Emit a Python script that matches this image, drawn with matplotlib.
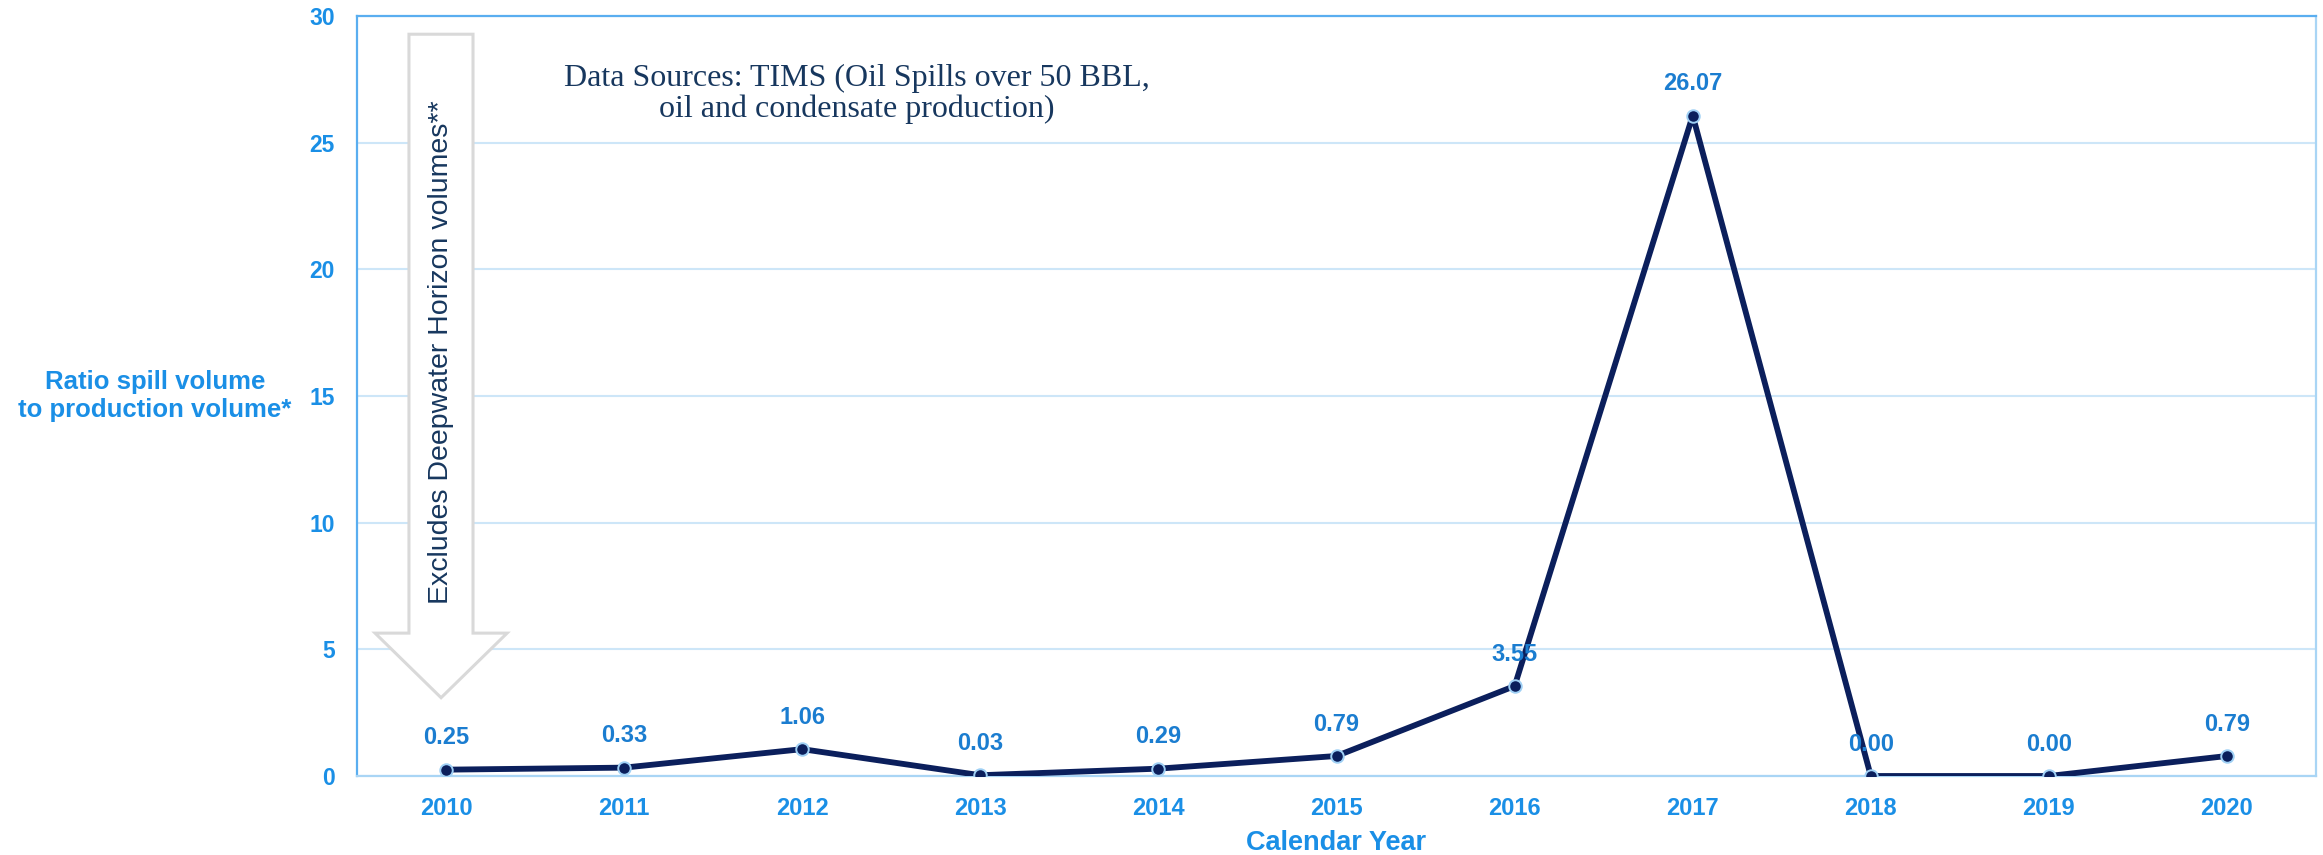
import matplotlib
matplotlib.use("Agg")
import matplotlib.pyplot as plt
from matplotlib.patches import Polygon

# data
years = [2010, 2011, 2012, 2013, 2014, 2015, 2016, 2017, 2018, 2019, 2020]
ratio = [0.25, 0.33, 1.06, 0.03, 0.29, 0.79, 3.55, 26.07, 0.00, 0.00, 0.79]
y_ticks = [0, 5, 10, 15, 20, 25, 30]

tick_blue = '#1a8fe6'
label_blue = '#1b7dd0'
navy = '#0b1f5c'
text_navy = '#17375e'

plt.rcParams['font.family'] = ['Liberation Sans', 'DejaVu Sans']

fig = plt.figure(figsize=(23.23, 8.55), dpi=100)
ax = fig.add_axes([0.1537, 0.0924, 0.997 - 0.1537, 0.9813 - 0.0924])

ax.set_xlim(years[0] - 0.5, years[-1] + 0.5)
ax.set_ylim(0, 30)
ax.set_yticks(y_ticks)
ax.set_xticks(years)
ax.set_xticklabels([str(y) for y in years])

ax.grid(axis='y', color='#cde6f8', linewidth=1.5)
ax.set_axisbelow(True)
for side in ['top', 'left']:
    ax.spines[side].set_color('#5aaef0')
    ax.spines[side].set_linewidth(1.6)
for side in ['bottom', 'right']:
    ax.spines[side].set_color('#a9d5f5')
    ax.spines[side].set_linewidth(1.6)

ax.tick_params(axis='both', length=0, labelcolor=tick_blue)
ax.tick_params(axis='y', pad=16, labelsize=16.5)
ax.tick_params(axis='x', pad=15, labelsize=17)
for lbl in ax.get_xticklabels() + ax.get_yticklabels():
    lbl.set_fontweight('bold')

# "excludes" arrow (axes fraction coords)
arrow = Polygon([(0.0265, 0.976), (0.0592, 0.976), (0.0592, 0.188), (0.0766, 0.188),
                 (0.0429, 0.103), (0.0092, 0.188), (0.0265, 0.188)],
                closed=True, transform=ax.transAxes, facecolor='white',
                edgecolor='#d9d9d9', linewidth=2.2, zorder=2)
ax.add_patch(arrow)
ax.text(0.0429, 0.558, 'Excludes Deepwater Horizon volumes**', transform=ax.transAxes,
        rotation=90, ha='center', va='center', fontsize=20.5, color=text_navy, zorder=3)

# the series
ax.plot(years, ratio, color=navy, linewidth=4.2, marker='o', markersize=9,
        markerfacecolor=navy, markeredgecolor='#9fd0f5', markeredgewidth=1.4, zorder=4)
for x, v in zip(years, ratio):
    ax.annotate('%.2f' % v, (x, v), xytext=(0, 23), textcoords='offset points',
                ha='center', va='center', fontsize=17, fontweight='bold',
                color=label_blue, zorder=5)

ax.set_xlabel('Calendar Year', fontsize=19.5, fontweight='bold', color=tick_blue, labelpad=7)
fig.text(0.0667, 0.537, 'Ratio spill volume\nto production volume*', ha='center', va='center',
         multialignment='center', fontsize=18.5, fontweight='bold', color=tick_blue)

fig.text(0.369, 0.890, 'Data Sources: TIMS (Oil Spills over 50 BBL,\noil and condensate production)',
         ha='center', va='center', multialignment='center', fontsize=23,
         family=['Liberation Serif', 'DejaVu Serif'], color=text_navy, linespacing=1.05)

fig.savefig('out.png', dpi=100)
